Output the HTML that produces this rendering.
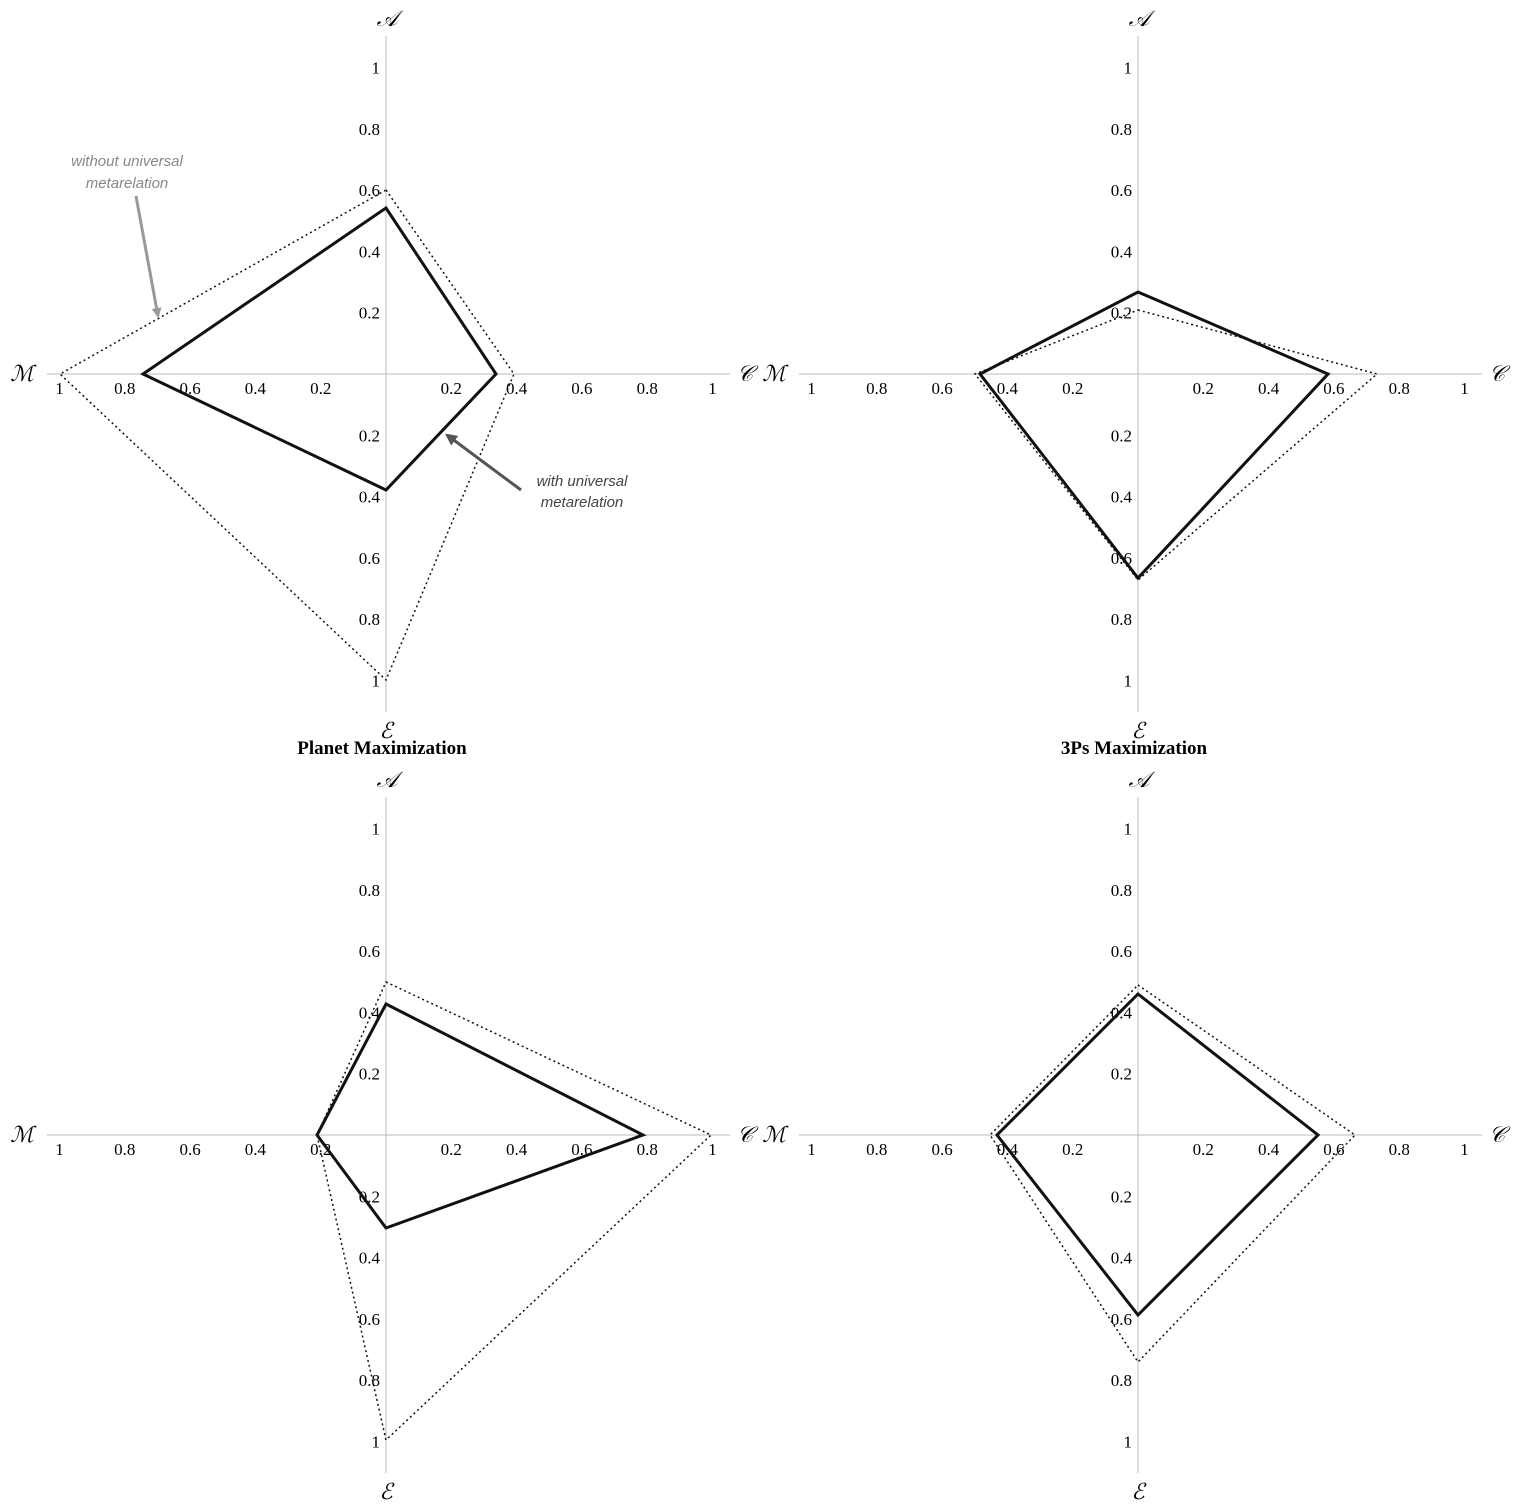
<!DOCTYPE html>
<html><head><meta charset="utf-8"><style>
html,body{margin:0;padding:0;background:#fff}
svg{display:block}
text{font-family:"Liberation Serif",serif}
</style></head><body>
<svg id="s" width="1515" height="1512" xmlns="http://www.w3.org/2000/svg">
<defs>
<marker id="ag" markerWidth="10" markerHeight="10" refX="8" refY="5" orient="auto" markerUnits="userSpaceOnUse" viewBox="0 0 10 10"><path d="M0,0 L10,5 L0,10 z" fill="#999"/></marker>
<marker id="ad" markerWidth="12" markerHeight="12" refX="8" refY="5" orient="auto" markerUnits="userSpaceOnUse" viewBox="0 0 10 10"><path d="M0,0 L10,5 L0,10 z" fill="#555"/></marker>
</defs>
<g id="g"></g>
<text x="382" y="754" font-size="19" font-weight="bold" text-anchor="middle">Planet Maximization</text>
<text x="1134" y="754" font-size="19" font-weight="bold" text-anchor="middle">3Ps Maximization</text>
<text x="127" y="166" font-size="15" font-style="italic" fill="#888" text-anchor="middle" style="font-family:'Liberation Sans',sans-serif">without universal</text>
<text x="127" y="188" font-size="15" font-style="italic" fill="#888" text-anchor="middle" style="font-family:'Liberation Sans',sans-serif">metarelation</text>
<line x1="136" y1="196" x2="158" y2="316" stroke="#999" stroke-width="3" marker-end="url(#ag)"/>
<text x="582" y="486" font-size="15" font-style="italic" fill="#444" text-anchor="middle" style="font-family:'Liberation Sans',sans-serif">with universal</text>
<text x="582" y="507" font-size="15" font-style="italic" fill="#444" text-anchor="middle" style="font-family:'Liberation Sans',sans-serif">metarelation</text>
<line x1="521" y1="490" x2="447" y2="435" stroke="#555" stroke-width="3" marker-end="url(#ad)"/>
</svg>
<script>
var NS="http://www.w3.org/2000/svg",g=document.getElementById('g');
function el(t,a,txt){var e=document.createElementNS(NS,t);for(var k in a)e.setAttribute(k,a[k]);if(txt!==undefined)e.textContent=txt;g.appendChild(e);return e;}
var charts=[
 {cx:386,cy:374,s:[[386,208],[496,374],[386,490],[143,374]],d:[[386,190],[514,374],[386,680],[60,374]]},
 {cx:1138,cy:374,s:[[1138,292],[1328,374],[1138,578],[980,374]],d:[[1138,310],[1377,374],[1138,580],[975,374]]},
 {cx:386,cy:1135,s:[[386,1004],[643,1135],[386,1228],[317,1135]],d:[[386,982],[711,1135],[386,1440],[317,1135]]},
 {cx:1138,cy:1135,s:[[1138,994],[1318,1135],[1138,1315],[997,1135]],d:[[1138,985],[1355,1135],[1138,1362],[990,1135]]}
];
var lab=["0.2","0.4","0.6","0.8","1"];
charts.forEach(function(c){
 var cx=c.cx,cy=c.cy;
 el('line',{x1:cx,y1:cy-338,x2:cx,y2:cy+338,stroke:'#bbb','stroke-width':1});
 el('line',{x1:cx-339,y1:cy,x2:cx+344,y2:cy,stroke:'#bbb','stroke-width':1});
 for(var i=0;i<5;i++){
  var dv=(i+1)*0.2*306.5, dh=(i+1)*0.2*326.5;
  el('text',{x:cx-6,y:cy-dv+6,'font-size':17,'text-anchor':'end'},lab[i]);
  el('text',{x:cx-6,y:cy+dv+6,'font-size':17,'text-anchor':'end'},lab[i]);
  el('text',{x:cx-dh,y:cy+20,'font-size':17,'text-anchor':'middle'},lab[i]);
  el('text',{x:cx+dh,y:cy+20,'font-size':17,'text-anchor':'middle'},lab[i]);
 }
 el('text',{x:cx+1,y:cy-348,'font-size':22,'font-style':'italic','text-anchor':'middle'},'𝒜');
 el('text',{x:cx,y:cy+364,'font-size':22,'font-style':'italic','text-anchor':'middle'},'ℰ');
 el('text',{x:cx+359,y:cy+7,'font-size':22,'font-style':'italic','text-anchor':'middle'},'𝒞');
 el('text',{x:cx-364,y:cy+7,'font-size':22,'font-style':'italic','text-anchor':'middle'},'ℳ');
 el('polygon',{points:c.d.join(' '),fill:'none',stroke:'#111','stroke-width':1.5,'stroke-dasharray':'2,3'});
 el('polygon',{points:c.s.join(' '),fill:'none',stroke:'#111','stroke-width':3});
});
</script>
</body></html>
